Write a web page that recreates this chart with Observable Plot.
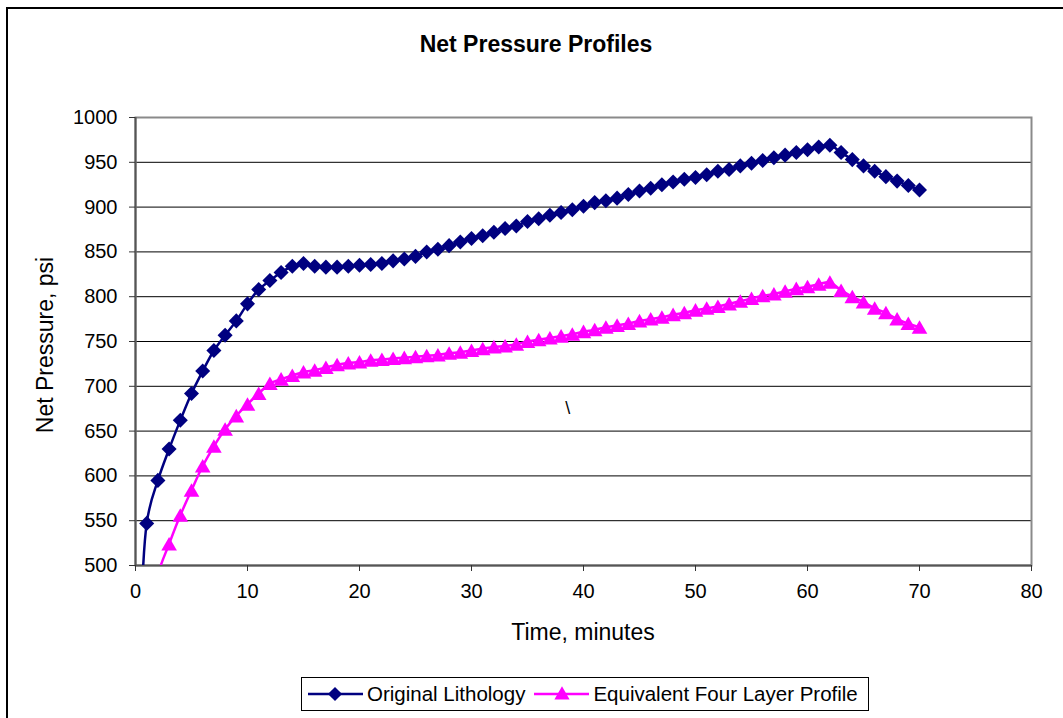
<!DOCTYPE html>
<html><head><meta charset="utf-8">
<script src="https://cdn.jsdelivr.net/npm/d3@7"></script>
<script src="https://cdn.jsdelivr.net/npm/@observablehq/plot@0.6"></script>
<style>
body{margin:0;background:#fff;font-family:Arial,"Liberation Sans",sans-serif}
#wrap{position:relative;width:1063px;height:718px;overflow:hidden;background:#fff}
#chart{position:absolute;left:0;top:0}
#border{position:absolute;left:6px;top:7px;width:1200px;height:900px;border-left:2px solid #000;border-top:2px solid #000;box-sizing:border-box}
#title{position:absolute;left:0;width:1072px;top:30px;text-align:center;font-weight:bold;font-size:23px;line-height:28px}
#ylabel{position:absolute;left:45px;top:345px;transform:translate(-50%,-50%) rotate(-90deg);font-size:23px;white-space:nowrap}
#xlabel{position:absolute;left:583px;top:632px;transform:translate(-50%,-50%);font-size:23px;white-space:nowrap}
#legend{position:absolute;left:301px;top:677px;width:568px;height:34px;border:1.5px solid #000;box-sizing:border-box;display:flex;align-items:center;font-size:20.5px;white-space:nowrap}
#legend .item{display:flex;align-items:center}
#legend svg{display:block}
</style>
</head><body>
<div id="wrap">
  <div id="chart"></div>
  <div id="border"></div>
  <div id="title">Net Pressure Profiles</div>
  <div id="ylabel">Net Pressure, psi</div>
  <div id="xlabel">Time, minutes</div>
  <div id="legend"></div>
</div>
<script>
const minutes = [0,1,2,3,4,5,6,7,8,9,10,11,12,13,14,15,16,17,18,19,20,21,22,23,24,25,26,27,28,29,30,31,32,33,34,35,36,37,38,39,40,41,42,43,44,45,46,47,48,49,50,51,52,53,54,55,56,57,58,59,60,61,62,63,64,65,66,67,68,69,70];
const originalLithology = [0,547,595,630,662,692,717,740,757,773,792,808,818,827,834,837,834,833,833,834,835,836,837,840,842,845,850,853,857,861,865,868,872,876,879,884,887,891,894,897,901,905,907,910,914,918,921,925,928,931,933,936,940,942,946,949,952,955,958,961,964,967,969,961,953,946,940,934,929,924,919];
const equivalentFourLayer = [0,420,490,524,556,584,611,633,652,667,680,692,703,708,712,716,718,721,724,726,727,729,730,731,732,733,734,735,737,738,740,742,744,745,747,750,752,754,756,758,761,763,766,768,770,773,775,777,780,782,785,787,789,792,795,798,801,803,806,809,811,814,816,807,800,794,787,782,775,770,766];
const seriesNames = ["Original Lithology", "Equivalent Four Layer Profile"];
const seriesColors = ["#000080", "#ff00ff"];
const xDomain = [0, 80];
const yDomain = [500, 1000];
const xTicks = [0,10,20,30,40,50,60,70,80];
const yTicks = [500,550,600,650,700,750,800,850,900,950,1000];
const annotations = [{x: 38.6, y: 675, text: "\\"}];

const rows = minutes.map((m, i) => ({minute: m, a: originalLithology[i], b: equivalentFourLayer[i]}));
const visA = rows.filter(d => d.a >= yDomain[0]);
const visB = rows.filter(d => d.b >= yDomain[0]);

const plot = Plot.plot({
  width: 1063, height: 718,
  marginLeft: 135, marginRight: 32, marginTop: 117, marginBottom: 153,
  style: {fontFamily: "Arial, 'Liberation Sans', sans-serif", fontSize: "20px", color: "#000", background: "transparent"},
  x: {domain: xDomain},
  y: {domain: yDomain},
  marks: [
    Plot.gridY(yTicks, {stroke: "#000", strokeOpacity: 1, strokeWidth: 1}),
    Plot.frame({stroke: "#8a8a8a", strokeWidth: 2}),
    Plot.ruleX([xDomain[0]], {stroke: "#555", strokeWidth: 2}),
    Plot.ruleY([yDomain[0]], {stroke: "#555", strokeWidth: 2}),
    Plot.axisY(yTicks, {tickSize: 6, tickPadding: 12, label: null, stroke: "#333", tickFormat: d => String(d), fontSize: 20}),
    Plot.axisX(xTicks, {tickSize: 6, tickPadding: 12, label: null, stroke: "#333", tickFormat: d => String(d), fontSize: 20}),
    Plot.line(rows, {x: "minute", y: "a", curve: "catmull-rom", stroke: seriesColors[0], strokeWidth: 2.5, clip: "frame"}),
    Plot.dot(visA, {x: "minute", y: "a", symbol: "square", rotate: 45, r: 6, fill: seriesColors[0], stroke: "none"}),
    Plot.line(rows, {x: "minute", y: "b", curve: "catmull-rom", stroke: seriesColors[1], strokeWidth: 2.5, clip: "frame"}),
    Plot.dot(visB, {x: "minute", y: "b", symbol: "triangle", r: 5.8, dy: 2, fill: seriesColors[1], stroke: "none"}),
    Plot.text(annotations, {x: "x", y: "y", text: "text", fontSize: 18})
  ]
});
document.getElementById("chart").appendChild(plot);

// legend
const legend = d3.select("#legend");
const shapes = [
  g => g.append("path").attr("d", d3.symbol(d3.symbolSquare, 100)()).attr("transform", "translate(27,12) rotate(45)"),
  g => g.append("path").attr("d", d3.symbol(d3.symbolTriangle, 100)()).attr("transform", "translate(28,13)")
];
const pads = [6, 9];
seriesNames.forEach((name, i) => {
  const item = legend.append("div").attr("class", "item").style("margin-left", pads[i] + "px");
  const svg = item.append("svg").attr("width", 55).attr("height", 24);
  svg.append("line").attr("x1", 0).attr("x2", 55).attr("y1", 12).attr("y2", 12).attr("stroke", seriesColors[i]).attr("stroke-width", 2.5);
  shapes[i](svg).attr("fill", seriesColors[i]);
  item.append("span").style("margin-left", "4px").text(name);
});
</script>
</body></html>
